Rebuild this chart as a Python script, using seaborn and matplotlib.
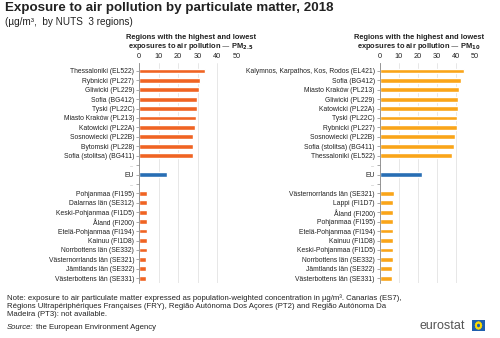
import numpy as np
import pandas as pd
import matplotlib
matplotlib.use("Agg")
import matplotlib.pyplot as plt
import seaborn as sns
from matplotlib.patches import Rectangle, Circle

sns.set_theme(style="white")
plt.rcParams['font.family'] = ['Liberation Sans', 'DejaVu Sans']

# ---- data ----
pm25_regions = ["Thessaloniki (EL522)", "Rybnicki (PL227)", "Gliwicki (PL229)", "Sofia (BG412)",
                "Tyski (PL22C)", "Miasto Kraków (PL213)", "Katowicki (PL22A)", "Sosnowiecki (PL22B)",
                "Bytomski (PL228)", "Sofia (stolitsa) (BG411)", "...a", "EU", "...b",
                "Pohjanmaa (FI195)", "Dalarnas län (SE312)", "Keski-Pohjanmaa (FI1D5)", "Åland (FI200)",
                "Etelä-Pohjanmaa (FI194)", "Kainuu (FI1D8)", "Norrbottens län (SE332)",
                "Västernorrlands län (SE321)", "Jämtlands län (SE322)", "Västerbottens län (SE331)"]
pm25_values = [33.5, 31.3, 30.4, 29.6, 29.4, 29.1, 28.6, 27.6, 27.4, 27.4, np.nan, 14.1, np.nan,
               3.9, 4.1, 4.1, 4.1, 4.0, 4.0, 3.9, 3.8, 3.6, 3.6]

pm10_regions = ["Kalymnos, Karpathos, Kos, Rodos (EL421)", "Sofia (BG412)", "Miasto Kraków (PL213)",
                "Gliwicki (PL229)", "Katowicki (PL22A)", "Tyski (PL22C)", "Rybnicki (PL227)",
                "Sosnowiecki (PL22B)", "Sofia (stolitsa) (BG411)", "Thessaloniki (EL522)", "...a", "EU", "...b",
                "Västernorrlands län (SE321)", "Lappi (FI1D7)", "Åland (FI200)", "Pohjanmaa (FI195)",
                "Etelä-Pohjanmaa (FI194)", "Kainuu (FI1D8)", "Keski-Pohjanmaa (FI1D5)",
                "Norrbottens län (SE332)", "Jämtlands län (SE322)", "Västerbottens län (SE331)"]
pm10_values = [44.2, 42.6, 41.7, 40.9, 40.9, 40.6, 40.4, 39.5, 39.0, 37.9, np.nan, 22.3, np.nan,
               7.4, 7.2, 7.2, 7.0, 6.9, 6.8, 6.8, 6.8, 6.7, 6.4]

x_ticks = [0, 10, 20, 30, 40, 50]

C_PM25 = "#F06423"
C_PM10 = "#FAA519"
C_EU = "#286EB4"
TXT = "#222222"

fig = plt.figure(figsize=(5.0, 3.38), dpi=100)

def panel(rect, regions, values, color):
    ax = fig.add_axes(rect)
    df = pd.DataFrame({"region": regions, "value": values,
                       "grp": ["eu" if r == "EU" else "reg" for r in regions]})
    sns.barplot(data=df, x="value", y="region", hue="grp", order=regions,
                palette={"reg": color, "eu": C_EU}, dodge=False, legend=False,
                width=0.5, saturation=1, ax=ax, orient="h")
    ax.set_xlim(0, 50)
    ax.set_ylim(22.5, -0.85)
    ax.set_xticks(x_ticks)
    ax.xaxis.tick_top()
    ax.tick_params(axis="x", length=0, labelsize=5.3, colors=TXT, pad=2)
    ax.set_yticks(range(len(regions)))
    ax.set_yticklabels(["..." if r.startswith("...") else r for r in regions])
    ax.tick_params(axis="y", length=2, width=0.5, labelsize=4.9, colors="#888888",
                   labelcolor=TXT, pad=1.5, left=True)
    for lbl in ax.get_yticklabels():
        if lbl.get_text() == "...":
            lbl.set_color("#999999")
            lbl.set_fontsize(4)
    ax.set_xlabel("")
    ax.set_ylabel("")
    ax.grid(axis="x", color="#DDDDDD", linewidth=0.5)
    ax.set_axisbelow(True)
    for s in ["top", "right", "bottom"]:
        ax.spines[s].set_visible(False)
    ax.spines["left"].set_color("#888888")
    ax.spines["left"].set_linewidth(0.6)
    return ax

ax1 = panel([0.278, 0.163, 0.196, 0.651], pm25_regions, pm25_values, C_PM25)
ax2 = panel([0.7594, 0.163, 0.1906, 0.651], pm10_regions, pm10_values, C_PM10)

fig.text(0.010, 0.993, "Exposure to air pollution by particulate matter, 2018",
         fontsize=9.6, fontweight="bold", color=TXT, va="top")
fig.text(0.010, 0.950, "(µg/m³,  by NUTS  3 regions)", fontsize=7.2, color=TXT, va="top")

fig.text(0.382, 0.900, "Regions with the highest and lowest\nexposures to air pollution — PM$_\\mathbf{2.5}$",
         fontsize=5.4, fontweight="bold", color=TXT, ha="center", va="top", linespacing=1.1)
fig.text(0.838, 0.900, "Regions with the highest and lowest\nexposures to air pollution — PM$_\\mathbf{10}$",
         fontsize=5.4, fontweight="bold", color=TXT, ha="center", va="top", linespacing=1.1)

note = ("Note: exposure to air particulate matter expressed as population-weighted concentration in µg/m³. Canarias (ES7),\n"
        "Régions Ultrapériphériques Françaises (FRY), Região Autónoma Dos Açores (PT2) and Região Autónoma Da\n"
        "Madeira (PT3): not available.")
fig.text(0.014, 0.130, note, fontsize=5.6, color=TXT, va="top", linespacing=1.2)
fig.text(0.014, 0.032, "Source:", fontsize=5.6, color=TXT, va="center", style="italic")
fig.text(0.072, 0.032, "the European Environment Agency", fontsize=5.6, color=TXT, va="center")

# eurostat logo
fig.text(0.838, 0.036, "eurostat", fontsize=9.0, color="#555555", va="center", ha="left")
lax = fig.add_axes([0.944, 0.022, 0.026, 0.030])
lax.set_xlim(0, 1.5); lax.set_ylim(0, 1)
lax.axis("off")
lax.add_patch(Rectangle((0, 0), 1.5, 1, color="#1F5FAE"))
for a in np.linspace(0, 2 * np.pi, 12, endpoint=False):
    lax.add_patch(Circle((0.75 + 0.3 * np.cos(a), 0.5 + 0.3 * np.sin(a)), 0.05, color="#FFDD00"))

fig.savefig("out.png", dpi=100)
